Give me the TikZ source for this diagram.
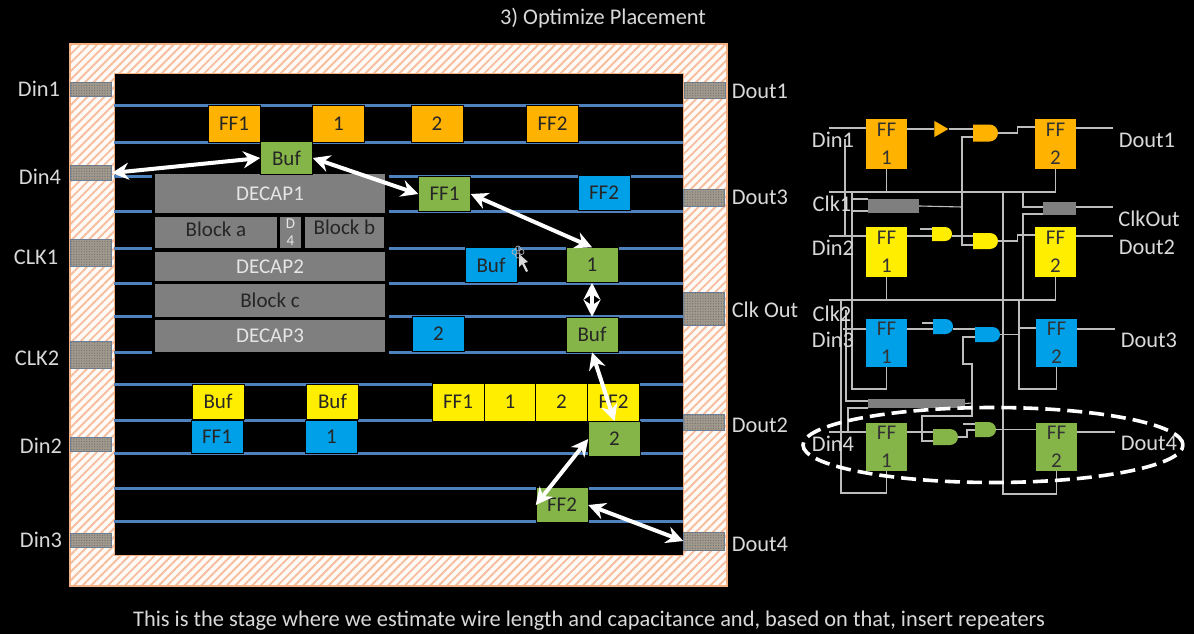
\documentclass[tikz,border=0pt]{standalone}
\usepackage{fontspec}
\setmainfont{Carlito}
\usetikzlibrary{arrows.meta,patterns.meta,shapes.geometric,shapes.misc}

\definecolor{oran}{HTML}{FFB300}
\definecolor{yell}{HTML}{FFEE00}
\definecolor{blu}{HTML}{00A0E8}
\definecolor{gree}{HTML}{85B548}
\definecolor{blok}{HTML}{7F7F7F}
\definecolor{rail}{HTML}{4F81BD}
\definecolor{peach}{HTML}{F4B183}
\definecolor{hatch}{HTML}{F7BE9E}
\definecolor{labl}{HTML}{D9D9D9}
\definecolor{wirec}{HTML}{BDBDBD}
\definecolor{padc}{HTML}{A39A8E}

\tikzset{
    labeltxt/.style={text=labl,inner sep=0pt,font=\fontsize{22.4}{26}\selectfont},
    cell/.style={draw=black,line width=0.5pt,minimum width=52pt,minimum height=35pt,inner sep=0pt,
        text=black!85,font=\fontsize{21}{25}\selectfont},
    block/.style={fill=blok,minimum height=31pt,inner sep=0pt,font=\fontsize{21}{25}\selectfont},
    pad/.style={draw=rail!40!gray,line width=0.4pt,fill=padc,inner sep=0pt,minimum width=41pt,
        postaction={pattern={Dots[distance=2.6pt,radius=0.7pt,xshift=1pt]},pattern color=black!55}},
    ffbox/.style={minimum width=41pt,minimum height=49pt,inner sep=0pt,align=center,
        text=black!80,font=\fontsize{21}{28}\selectfont},
    gatebox/.style={rounded rectangle,rounded rectangle left arc=none,inner sep=0pt},
    delaybox/.style={fill=blok,inner sep=0pt},
    wire/.style={draw=wirec,line width=1.1pt},
    hop/.style={draw=white,line width=4pt,{Stealth[length=17pt,width=17pt]}-{Stealth[length=17pt,width=17pt]}}
}

\begin{document}
\begin{tikzpicture}[x=1pt,y=-1pt]
    \useasboundingbox[fill=black](0,0)rectangle(1194,634);

    % die outline
    \fill[white!94!peach](70,44)rectangle(727,586);
    \fill[pattern={Lines[angle=45,distance=6pt,line width=1.9pt]},pattern color=hatch](70,44)rectangle(727,586);
    \draw[peach,line width=2pt](70,44)rectangle(727,586);
    \fill[black](114,74)rectangle(683,555);
    \draw[peach,line width=1pt](114,74)rectangle(683,555);

    % rails
    \foreach \y in {105,142,176,211,248,283,316,352,384,420,453,488,521}
        \draw[rail,line width=3pt](114,\y)--(683,\y);
    \fill[black](152,172)rectangle(389,355);

    % pads
    \node[pad,minimum height=14pt](din1) at (91,89){};
    \node[pad,minimum height=15pt](din4) at (91,173){};
    \node[pad,minimum height=27pt](clk1) at (91,253){};
    \node[pad,minimum height=27pt](clk2) at (91,355){};
    \node[pad,minimum height=14pt](din2) at (91,444){};
    \node[pad,minimum height=14pt](din3) at (91,540){};
    \node[pad,minimum height=16pt](dout1) at (705,90){};
    \node[pad,minimum height=17pt](dout3) at (704,198){};
    \node[pad,minimum height=33pt](clkout) at (704,309){};
    \node[pad,minimum height=16pt](dout2) at (704,422){};
    \node[pad,minimum height=18pt](dout4) at (704,541){};

    \node[labeltxt](ldin1) at (39,89){Din1};
    \node[labeltxt](ldin4) at (40,177){Din4};
    \node[labeltxt](lclk1) at (36,257){CLK1};
    \node[labeltxt](lclk2) at (37,358){CLK2};
    \node[labeltxt](ldin2) at (41,446){Din2};
    \node[labeltxt](ldin3) at (41,540){Din3};
    \node[labeltxt](ldout1) at (760,91){Dout1};
    \node[labeltxt](ldout3) at (760,197){Dout3};
    \node[labeltxt](lclkout) at (765,310){Clk Out};
    \node[labeltxt](ldout2) at (760,425){Dout2};
    \node[labeltxt](ldout4) at (760,544){Dout4};

    % macros
    \node[block,minimum width=230pt,minimum height=39pt,text=white!90!black](decap1) at (270,193.5){DECAP1};
    \node[block,minimum width=122pt,text=black!85,text depth=6pt](blocka) at (216,232){Block a};
    \node[block,minimum width=21pt,text=white!90!black,align=center,font=\fontsize{15}{17}\selectfont](dfour) at (290.5,232){D\\4};
    \node[block,minimum width=79pt,text=black!85,text depth=9pt](blockb) at (344.5,232){Block b};
    \node[block,minimum width=230pt,minimum height=29pt,text=white!90!black](decap2) at (270,266.5){DECAP2};
    \node[block,minimum width=230pt,minimum height=33pt,text=black!85](blockc) at (270,300.5){Block c};
    \node[block,minimum width=230pt,minimum height=32pt,text=white!90!black](decap3) at (270,336){DECAP3};

    % placed cells
    \node[cell,fill=oran,minimum height=37pt](oaff) at (234,123.5){FF1};
    \node[cell,fill=oran,minimum height=37pt](oaone) at (338.5,123.5){1};
    \node[cell,fill=oran,minimum height=37pt](oatwo) at (437,123.5){2};
    \node[cell,fill=oran,minimum height=37pt](obff) at (552.5,123.5){FF2};
    \node[cell,fill=gree,minimum height=33pt](gbuf) at (286.5,158){Buf};
    \node[cell,fill=gree](gffa) at (444.5,194){FF1};
    \node[cell,fill=blu](bffb) at (604,193){FF2};
    \node[cell,fill=gree](gone) at (592,265){1};
    \node[cell,fill=blu](bbuf) at (491,265){Buf};
    \node[cell,fill=blu](btwo) at (438.5,334){2};
    \node[cell,fill=gree](gbufb) at (592,334.5){Buf};
    \node[cell,fill=yell](ybufa) at (218,401.5){Buf};
    \node[cell,fill=yell](ybufb) at (332.5,401.5){Buf};
    \node[cell,fill=blu,minimum height=33pt](bffa) at (217,436.5){FF1};
    \node[cell,fill=blu,minimum height=33pt](bone) at (331.5,436.5){1};
    \node[cell,fill=yell,minimum height=38pt](yffa) at (458,402){FF1};
    \node[cell,fill=yell,minimum height=38pt](yone) at (510,402){1};
    \node[cell,fill=yell,minimum height=38pt](ytwo) at (561.5,402){2};
    \node[cell,fill=yell,minimum height=38pt](yffb) at (613.5,402){FF2};
    \node[cell,fill=gree](gtwo) at (614.5,439){2};
    \node[cell,fill=gree](gffb) at (562,505){FF2};

    % hops between the green cells
    \draw[hop](din4.east)--(gbuf.west);
    \draw[hop](gbuf.east)--(gffa.west);
    \draw[hop](gffa.east)--(gone.north);
    \draw[hop](gone.south)--(gbufb.north);
    \draw[hop](gbufb.south)--(gtwo.north);
    \draw[hop](gtwo.west)--(gffb.west);
    \draw[hop](gffb.east)--(dout4.west);

    % mouse pointer
    \fill[white!85!black](519,254)--(519,267)--(522,264)--(526,272)--(528,271)--(524,263)--(528,262)--cycle;
    \foreach \a in {0,90,180,270}
        \draw[white!70!black,line width=0.7pt](518,252)++(\a:3.5)circle(2.5);

    % schematic on the right
    \node[ffbox,fill=oran,minimum height=50pt](foa) at (886.5,144){FF\\1};
    \node[ffbox,fill=oran,minimum height=50pt](fob) at (1055.5,144){FF\\2};
    \node[ffbox,fill=yell,minimum height=50pt](fya) at (886.5,252){FF\\1};
    \node[ffbox,fill=yell,minimum height=50pt](fyb) at (1055.5,252){FF\\2};
    \node[ffbox,fill=blu,minimum height=48pt](fba) at (886.5,343){FF\\1};
    \node[ffbox,fill=blu,minimum height=48pt](fbb) at (1056.5,343){FF\\2};
    \node[ffbox,fill=gree,minimum height=48pt](fga) at (886.5,447){FF\\1};
    \node[ffbox,fill=gree,minimum height=48pt](fgb) at (1056.5,447){FF\\2};

    \node[isosceles triangle,fill=oran,inner sep=0pt,minimum height=14pt,minimum width=13pt,isosceles triangle apex angle=60](goa) at (939,129){};
    \node[gatebox,fill=oran,minimum width=25pt,minimum height=17pt](gob) at (985.5,133){};
    \node[gatebox,fill=yell,minimum width=20pt,minimum height=14pt](gya) at (942,234){};
    \node[gatebox,fill=yell,minimum width=25pt,minimum height=16pt](gyb) at (985.5,241){};
    \node[gatebox,fill=blu,minimum width=20pt,minimum height=15pt](gba) at (943,326.5){};
    \node[gatebox,fill=blu,minimum width=25pt,minimum height=15pt](gbb) at (987.5,334.5){};
    \node[gatebox,fill=gree,minimum width=25pt,minimum height=16pt](gga) at (945.5,437){};
    \node[gatebox,fill=gree,minimum width=21pt,minimum height=15pt](ggb) at (985.5,429.5){};

    \node[delaybox,minimum width=51pt,minimum height=14pt](dla) at (893.5,206){};
    \node[delaybox,minimum width=33pt,minimum height=13pt](dlb) at (1059.5,208.5){};
    \node[delaybox,minimum width=97pt,minimum height=9pt](dlc) at (916.5,403.5){};

    \coordinate (pdina) at (829,128);
    \coordinate (pdinb) at (829,236);
    \coordinate (pdinc) at (843,329);
    \coordinate (pdind) at (829,432);
    \coordinate (pclka) at (829,192);
    \coordinate (pclkb) at (829,300);
    \coordinate (poutclk) at (1113,207);

    % orange row
    \draw[wire](pdina)--(pdina-|foa.west);
    \draw[wire](foa.east|-goa.west)--(goa.west);
    \draw[wire](goa.east)--(gob.west|-goa.east);
    \draw[wire](gob.east)--++(19,0)|-(fob.west|-0,127);
    \draw[wire](fob.east|-0,128)--++(37,0);
    \draw[wire](pclka)--(fob.south|-pclka)--(fob.south);
    \draw[wire](foa.south)--(foa.south|-pclka);
    \draw[wire](gob.west|-0,137)-|(962,245)--(gyb.west|-0,245);
    \draw[wire](dla.east)--(962,207);

    % yellow row
    \draw[wire](pdinb)--(pdinb-|fya.west);
    \draw[wire](fya.east|-0,236)--(gya.west|-0,236);
    \draw[wire](920,229)--(gya.west|-0,229);
    \draw[wire](gya.east|-0,236)--(gyb.west|-0,236);
    \draw[wire](gyb.east)--++(19,0)|-(fyb.west|-0,235);
    \draw[wire](fyb.east|-0,236)--++(37,0);
    \draw[wire](pclkb)--(fyb.south|-pclkb)--(fyb.south);
    \draw[wire](fya.south)--(fya.south|-pclkb);

    % clock and delay branches
    \draw[wire](845,139)--(845,236);
    \draw[wire](852,199)--(dla.west|-0,199);
    \draw[wire](852,211)--(dla.west|-0,211);
    \draw[wire](852,192)--(852,389)-|(fba.south);
    \draw[wire](1023,192)--(1023,207)--(dlb.west|-0,207);
    \draw[wire](1023,300)--(1023,214)--(dlb.west|-0,214);
    \draw[wire](dlb.east|-poutclk)--(poutclk);
    \draw[wire](1003,192)--(1003,494)-|(fgb.south);
    \draw[wire](1019,300)--(1019,389)-|(fbb.south);
    \draw[wire](841,300)--(841,493)-|(fga.south);
    \draw[wire](846,310)--(846,401)--(dlc.west|-0,401);
    \draw[wire](848,431)--(848,408)--(dlc.west|-0,408);

    % blue row
    \draw[wire](pdinc)--(pdinc-|fba.west);
    \draw[wire](fba.east|-0,329)--(gba.west|-0,329);
    \draw[wire](922,323)--(gba.west|-0,323);
    \draw[wire](gba.east|-0,329)--(gbb.west|-0,329);
    \draw[wire](gbb.east)--++(18,0)|-(fbb.west|-0,328);
    \draw[wire](fbb.east|-0,329)--++(38,0);
    \draw[wire](gbb.west|-0,337)-|(963,364)-|(972,416)-|(922,441)--(gga.west|-0,441);
    \draw[wire](dlc.east)--(972,403);

    % green row
    \draw[wire](pdind)--(pdind-|fga.west);
    \draw[wire](fga.east|-0,432)--(gga.west|-0,432);
    \draw[wire](gga.east)--(967,437)|-(ggb.west|-0,430);
    \draw[wire](963,424)--(ggb.west|-0,424);
    \draw[wire](ggb.east)--(fgb.west|-ggb.east);
    \draw[wire](fgb.east|-0,432)--++(38,0);

    \node[labeltxt](sdin1) at (833,140){Din1};
    \node[labeltxt](sclk1) at (832,204){Clk1};
    \node[labeltxt](sdin2) at (833,248){Din2};
    \node[labeltxt](sclk2) at (832,314){Clk2};
    \node[labeltxt](sdin3) at (833,340){Din3};
    \node[labeltxt](sdin4) at (833,444){Din4};
    \node[labeltxt](sdout1) at (1147,140){Dout1};
    \node[labeltxt](sclkout) at (1149,219){ClkOut};
    \node[labeltxt](sdout2) at (1147,247){Dout2};
    \node[labeltxt](sdout3) at (1149,340){Dout3};
    \node[labeltxt](sdout4) at (1149,443){Dout4};

    \node[ellipse,draw=white,line width=3.6pt,dash pattern=on 15pt off 7pt,minimum width=380pt,minimum height=75pt,inner sep=0pt](ring) at (993,445){};

    \node[labeltxt](title) at (603,18){3) Optimize Placement};
    \node[labeltxt](caption) at (589,621){This is the stage where we estimate wire length and capacitance and, based on that, insert repeaters};
\end{tikzpicture}
\end{document}
